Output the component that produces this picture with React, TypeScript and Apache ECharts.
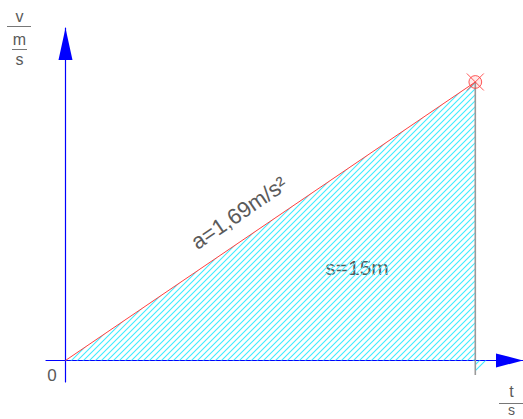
import React, { useEffect, useRef } from "react";
import * as echarts from "echarts";

// ---- data ----
const timeSeconds = [0, 4.21]; // t [s]
const speedMetersPerSecond = [0, 7.12]; // v [m/s]
const legTime = [4.21, 4.21]; // vertical closing edge of the area
const legSpeed = [7.12, -0.37];
const footTime = [4.21, 4.33, 4.21]; // small hatched foot below the t-axis
const footSpeed = [0, 0, -0.33];
const xAxisRange = [-0.2, 4.7];
const yAxisRange = [-0.55, 8.5];
const annotationLabels = ["a=1,69m/s²", "s=15m"];
const yUnitLabels = ["v", "m", "s"];
const xUnitLabels = ["t", "s"];
const originLabel = "0";

const FONT = "'Liberation Sans', Arial, sans-serif";
const TXT = "#5a5a5a";

const HATCH_SVG =
  "<svg xmlns='http://www.w3.org/2000/svg' width='6' height='6'>" +
  "<path d='M-1 1L1 -1M-1 7L7 -1M5 7L7 5' stroke='#40ebff' stroke-width='1.1' fill='none'/>" +
  "</svg>";
const HATCH_URL = "data:image/svg+xml;charset=utf-8," + encodeURIComponent(HATCH_SVG);

export default function App() {
  const ref = useRef<HTMLDivElement>(null);

  useEffect(() => {
    if (!ref.current) return;
    const chart = echarts.init(ref.current, null, { renderer: "svg" });
    const hatch: any = {
      image: HATCH_URL,
      repeat: "repeat",
      imageWidth: 6,
      imageHeight: 6,
    };

    const linePts = timeSeconds.map((t, i) => [t, speedMetersPerSecond[i]]);
    const legPts = legTime.map((t, i) => [t, legSpeed[i]]);
    const footPts = footTime.map((t, i) => [t, footSpeed[i]]);
    const apex = linePts[linePts.length - 1];

    const axisCommon = {
      type: "value" as const,
      axisTick: { show: false },
      axisLabel: { show: false },
      splitLine: { show: false },
    };

    const angle = Math.atan2(279, 410);

    chart.setOption({
      animation: false,
      backgroundColor: "#ffffff",
      grid: { left: 46, right: 0, top: 28, bottom: 37 },
      xAxis: {
        ...axisCommon,
        min: xAxisRange[0],
        max: xAxisRange[1],
        axisLine: {
          show: true,
          onZero: true,
          lineStyle: { color: "#0000ff", width: 1.2 },
          symbol: ["none", "triangle"],
          symbolSize: [14, 27],
          symbolOffset: [0, -13.5],
        },
      },
      yAxis: {
        ...axisCommon,
        min: yAxisRange[0],
        max: yAxisRange[1],
        axisLine: {
          show: true,
          onZero: true,
          lineStyle: { color: "#0000ff", width: 1.2 },
          symbol: ["none", "triangle"],
          symbolSize: [14, 32],
          symbolOffset: [0, -16],
        },
      },
      series: [
        {
          type: "line",
          data: linePts,
          symbol: "none",
          lineStyle: { color: "#ff4040", width: 1 },
          areaStyle: { color: hatch, opacity: 1 },
          z: 3,
        },
        {
          type: "custom",
          data: [0],
          renderItem: (_p: any, api: any) => ({
            type: "polygon",
            shape: { points: footPts.map((p) => api.coord(p)) },
            style: { fill: hatch, stroke: "none" },
          }),
          z: 2,
        },
        {
          type: "line",
          data: legPts,
          symbol: "none",
          lineStyle: { color: "#9a9a9a", width: 1.6 },
          z: 4,
        },
        {
          type: "scatter",
          data: [apex],
          symbol:
            "path://M2 2L18 18M18 2L2 18M16 10A6 6 0 1 1 4 10A6 6 0 1 1 16 10Z",
          symbolSize: 17,
          itemStyle: {
            color: "rgba(255,80,80,0.15)",
            borderColor: "#ff3030",
            borderWidth: 1,
          },
          z: 5,
        },
      ],
      graphic: [
        // y unit label v / (m/s)
        { type: "text", x: 19.5, y: 16.5, style: { text: yUnitLabels[0], font: `16px ${FONT}`, fill: TXT, align: "center", verticalAlign: "middle" } },
        { type: "line", shape: { x1: 7, y1: 26.5, x2: 31, y2: 26.5 }, style: { stroke: "#777", lineWidth: 1 } },
        { type: "text", x: 19.5, y: 39, style: { text: yUnitLabels[1], font: `16px ${FONT}`, fill: TXT, align: "center", verticalAlign: "middle" } },
        { type: "line", shape: { x1: 12, y1: 49.5, x2: 27, y2: 49.5 }, style: { stroke: "#777", lineWidth: 1 } },
        { type: "text", x: 19.5, y: 59, style: { text: yUnitLabels[2], font: `16px ${FONT}`, fill: TXT, align: "center", verticalAlign: "middle" } },
        // x unit label t / s
        { type: "text", x: 511.5, y: 391, style: { text: xUnitLabels[0], font: `16px ${FONT}`, fill: TXT, align: "center", verticalAlign: "middle" } },
        { type: "line", shape: { x1: 499, y1: 403.5, x2: 523, y2: 403.5 }, style: { stroke: "#777", lineWidth: 1 } },
        { type: "text", x: 511.5, y: 410, style: { text: xUnitLabels[1], font: `14px ${FONT}`, fill: TXT, align: "center", verticalAlign: "middle" } },
        // origin
        { type: "text", x: 52, y: 375, style: { text: originLabel, font: `17px ${FONT}`, fill: TXT, align: "center", verticalAlign: "middle" } },
        // annotations
        { type: "text", x: 239, y: 213, rotation: angle, style: { text: annotationLabels[0], font: `22px ${FONT}`, fill: TXT, align: "center", verticalAlign: "middle" } },
        { type: "text", x: 357, y: 267, style: { text: annotationLabels[1], font: `21px ${FONT}`, fill: TXT, align: "center", verticalAlign: "middle" } },
      ],
    });

    return () => chart.dispose();
  }, []);

  return (
    <div
      ref={ref}
      style={{ position: "fixed", left: 0, top: 0, width: 523, height: 419 }}
    />
  );
}
